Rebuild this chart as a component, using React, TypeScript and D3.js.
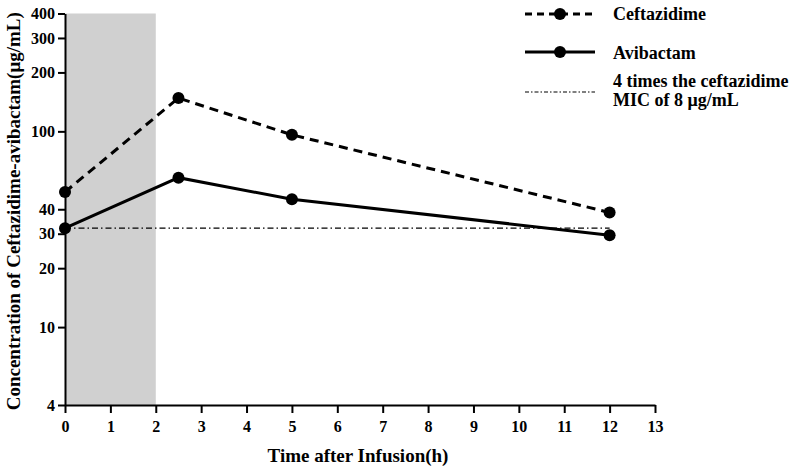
import React, { useEffect, useRef } from "react";
import * as d3 from "d3";

// time points (h) and concentrations (ug/mL)
const timePoints = [0, 2.5, 5, 12];
const ceftazidime = [49, 148, 96, 38.5];
const avibactam = [32, 58, 45, 29.5];
const micLevel = 32; // 4 x MIC of 8 ug/mL
const infusionWindow = [0, 2];

const xTicks = [0, 1, 2, 3, 4, 5, 6, 7, 8, 9, 10, 11, 12, 13];
const yTicks = [4, 10, 20, 30, 40, 100, 200, 300, 400];

const FONT = "'Liberation Serif', 'Times New Roman', serif";

function App() {
  const ref = useRef<SVGSVGElement>(null);

  useEffect(() => {
    const svg = d3.select(ref.current);
    svg.selectAll("*").remove();

    const x = d3.scaleLinear().domain([0, 13]).range([65, 655]);
    const y = d3.scaleLog().domain([4, 400]).range([405, 13.5]);

    // infusion period shading
    svg
      .append("rect")
      .attr("x", x(infusionWindow[0]))
      .attr("y", y(400))
      .attr("width", x(infusionWindow[1]) - x(infusionWindow[0]))
      .attr("height", y(4) - y(400))
      .attr("fill", "#d0d0d0");

    // axes
    const xAxis = svg
      .append("g")
      .attr("transform", `translate(0,${y(4)})`)
      .call(d3.axisBottom(x).tickValues(xTicks).tickSize(8).tickSizeOuter(0).tickFormat(d3.format("d")));
    xAxis.select(".domain").attr("stroke-width", 2);
    xAxis.selectAll(".tick line").attr("stroke-width", 2);
    xAxis
      .selectAll(".tick text")
      .attr("font-family", FONT)
      .attr("font-weight", "bold")
      .attr("font-size", 16)
      .attr("y", 16);

    const yAxis = svg
      .append("g")
      .attr("transform", `translate(${x(0)},0)`)
      .call(d3.axisLeft(y).tickValues(yTicks).tickSize(7).tickSizeOuter(0).tickFormat(d3.format("d")));
    yAxis.select(".domain").attr("stroke-width", 2);
    yAxis.selectAll(".tick line").attr("stroke-width", 2);
    yAxis
      .selectAll(".tick text")
      .attr("font-family", FONT)
      .attr("font-weight", "bold")
      .attr("font-size", 16)
      .attr("x", -10);

    // 4x MIC reference line
    svg
      .append("line")
      .attr("x1", x(0))
      .attr("x2", x(12))
      .attr("y1", y(micLevel))
      .attr("y2", y(micLevel))
      .attr("stroke", "#000")
      .attr("stroke-width", 1.2)
      .attr("stroke-dasharray", "6,3,1.5,3");

    const line = d3
      .line<number>()
      .x((d, i) => x(timePoints[i]))
      .y((d) => y(d));

    const series = [
      { name: "Ceftazidime", values: ceftazidime, dash: "9,6" },
      { name: "Avibactam", values: avibactam, dash: null },
    ];

    series.forEach((s) => {
      svg
        .append("path")
        .datum(s.values)
        .attr("d", line)
        .attr("fill", "none")
        .attr("stroke", "#000")
        .attr("stroke-width", 3)
        .attr("stroke-dasharray", s.dash);
      svg
        .selectAll(null)
        .data(s.values)
        .join("circle")
        .attr("cx", (d, i) => x(timePoints[i]))
        .attr("cy", (d) => y(d))
        .attr("r", 6)
        .attr("fill", "#000");
    });

    // legend
    const lg = svg.append("g");
    const rows = [
      { y: 14, dash: "7,5", marker: true, width: 3, text: ["Ceftazidime"], ty: 20 },
      { y: 52, dash: null, marker: true, width: 3, text: ["Avibactam"], ty: 59 },
      { y: 92, dash: "4,2,1.5,2", marker: false, width: 1.2, text: ["4 times the ceftazidime", "MIC of 8 μg/mL"], ty: 87 },
    ];
    rows.forEach((r) => {
      lg.append("line")
        .attr("x1", 525)
        .attr("x2", 595)
        .attr("y1", r.y)
        .attr("y2", r.y)
        .attr("stroke", "#000")
        .attr("stroke-width", r.width)
        .attr("stroke-dasharray", r.dash);
      if (r.marker) {
        lg.append("circle").attr("cx", 560).attr("cy", r.y).attr("r", 6).attr("fill", "#000");
      }
      r.text.forEach((t, i) => {
        lg.append("text")
          .attr("x", 613)
          .attr("y", r.ty + i * 19)
          .attr("font-family", FONT)
          .attr("font-weight", "bold")
          .attr("font-size", 18)
          .text(t);
      });
    });

    // axis titles
    svg
      .append("text")
      .attr("x", 358)
      .attr("y", 462)
      .attr("text-anchor", "middle")
      .attr("font-family", FONT)
      .attr("font-weight", "bold")
      .attr("font-size", 19)
      .text("Time after Infusion(h)");

    svg
      .append("text")
      .attr("transform", `translate(20,${(y(4) + y(400)) / 2 + 2}) rotate(-90)`)
      .attr("text-anchor", "middle")
      .attr("font-family", FONT)
      .attr("font-weight", "bold")
      .attr("font-size", 19)
      .text("Concentration of Ceftazidime-avibactam(μg/mL)");
  }, []);

  return (
    <svg
      ref={ref}
      width={797}
      height={470}
      style={{ position: "absolute", left: 0, top: 0, background: "#fff" }}
    />
  );
}

export default App;
